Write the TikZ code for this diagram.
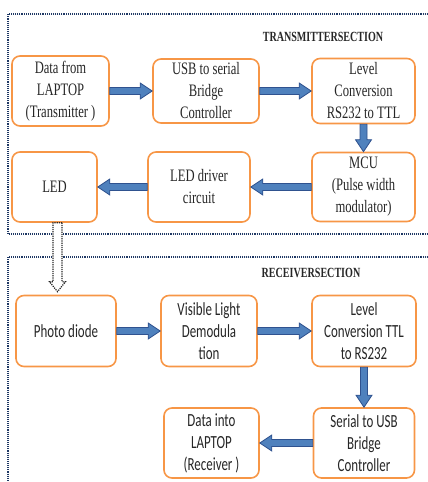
\documentclass[tikz,border=0pt]{standalone}
\usepackage{fontspec}
\newfontfamily\txfont[FakeStretch=0.72]{Liberation Serif}
\newfontfamily\rxfont[FakeStretch=0.7]{Carlito}
\usepackage{tikz}
\usepackage{xcolor}
\usetikzlibrary{calc}
\definecolor{boxorange}{HTML}{F79646}
\definecolor{arrfill}{HTML}{4F81BD}
\definecolor{arrline}{HTML}{2F528F}
\definecolor{frameblue}{HTML}{1F3864}

\begin{document}
\begin{tikzpicture}[x=1pt,y=-1pt,
blk/.style={draw=boxorange,line width=1.6pt,rounded corners=8pt,align=center,inner sep=0pt,text=black!85},
tx/.style={blk,font=\txfont\fontsize{17.5}{22}\selectfont},
rx/.style={blk,font=\rxfont\fontsize{18.5}{22}\selectfont},
sect/.style={font=\txfont\bfseries\fontsize{14}{16}\selectfont,text=black!85},
sectframe/.style={draw=frameblue,line width=1.1pt,densely dotted},
fat/.style n args={3}{to path={let \p1=($(\tikztotarget)!#3!(\tikztostart)$) in
	($(\tikztostart)!#1!90:(\tikztotarget)$) -- ($(\p1)!#1!-90:(\tikztostart)$)
	-- ($(\p1)!#2!-90:(\tikztostart)$) -- (\tikztotarget)
	-- ($(\p1)!#2!90:(\tikztostart)$) -- ($(\p1)!#1!90:(\tikztostart)$)
	-- ($(\tikztostart)!#1!-90:(\tikztotarget)$) -- cycle}},
flow/.style={draw=arrline,fill=arrfill,line width=0.8pt,fat={3.5pt}{8pt}{12pt}},
beam/.style={draw=black!85,fill=white,line width=1.2pt,densely dotted,fat={4.5pt}{8pt}{10pt}}]
	\useasboundingbox (0,0) rectangle (428,482);
	\def\ta{91}
	\def\tb{187}
	\def\ra{331}
	\def\rb{443}

	%sections
	\draw[sectframe] (432,14) -- (8,14) -- (8,234) -- (432,234);
	\draw[sectframe] (432,257) -- (8,257) -- (8,486);
	\node[sect] (ttx) at (323,37) {TRANSMITTERSECTION};
	\node[sect] (trx) at (311,273) {RECEIVERSECTION};

	%transmitter
	\node[tx,minimum width=97pt,minimum height=70pt] at (60.5,\ta) (t1) {Data from\\LAPTOP\\(Transmitter )};
	\node[tx,minimum width=106pt,minimum height=64pt] at (206,\ta) (t2) {USB to serial\\Bridge\\Controller};
	\node[tx,minimum width=103pt,minimum height=65pt] at (363.5,\ta) (t3) {Level\\Conversion\\RS232 to TTL};
	\node[tx,minimum width=103pt,minimum height=69pt] at (363.5,\tb) (t4) {MCU\\(Pulse width\\modulator)};
	\node[tx,minimum width=102pt,minimum height=70pt] at (199,\tb) (t5) {LED driver\\circuit};
	\node[tx,minimum width=85pt,minimum height=70pt] at (54.5,\tb) (t6) {LED};

	%receiver
	\node[rx,minimum width=100pt,minimum height=71pt] at (66,\ra) (r1) {Photo diode};
	\node[rx,minimum width=96pt,minimum height=71pt] at (209,\ra) (r2) {Visible Light\\Demodula\\tion};
	\node[rx,minimum width=104pt,minimum height=71pt] at (364,\ra) (r3) {Level\\Conversion TTL\\to RS232};
	\node[rx,minimum width=101pt,minimum height=70pt] at (364,\rb) (r4) {Serial to USB\\Bridge\\Controller};
	\node[rx,minimum width=95pt,minimum height=70pt] at (211.5,\rb) (r5) {Data into\\LAPTOP\\(Receiver )};

	\draw[flow] (t1.east) to (t2.west);
	\draw[flow] (t2.east) to (t3.west);
	\draw[flow] (t3.south) to (t4.north);
	\draw[flow] (t4.west) to (t5.east);
	\draw[flow] (t5.west) to (t6.east);
	%light link
	\draw[beam] ([xshift=3pt]t6.south) to ([xshift=3pt,yshift=3pt]t6.south |- r1.north);
	\draw[flow] (r1.east) to (r2.west);
	\draw[flow] (r2.east) to (r3.west);
	\draw[flow] (r3.south) to (r4.north);
	\draw[flow] (r4.west) to (r5.east);
\end{tikzpicture}
\end{document}
